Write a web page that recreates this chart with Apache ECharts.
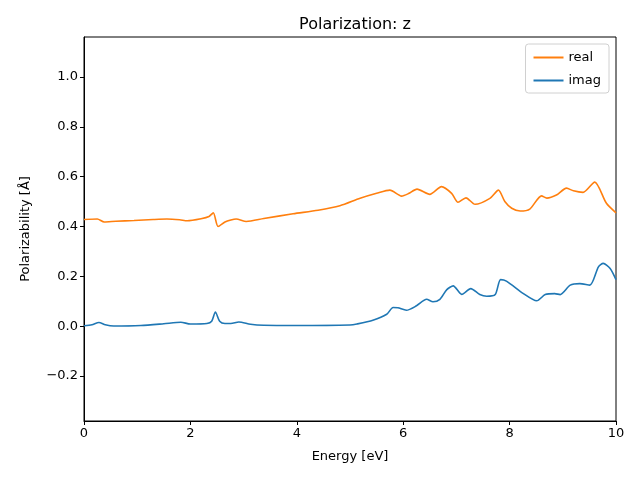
<!DOCTYPE html>
<html><head><meta charset="utf-8">
<script src="https://cdn.jsdelivr.net/npm/echarts@6/dist/echarts.min.js"></script>
<style>html,body{margin:0;padding:0;background:#fff}#c{width:640px;height:480px}</style>
</head><body><div id="c"></div>
<script>
const titleText = "Polarization: z";
const xName = "Energy [eV]";
const yName = "Polarizability [Å]";
const yTicks = [-0.2, 0.0, 0.2, 0.4, 0.6, 0.8, 1.0];
const realE = [0,0.25,0.38,0.6,0.94,1.3,1.56,1.8,1.94,2.2,2.35,2.43,2.52,2.65,2.76,2.86,3.05,3.38,3.93,4.4,4.81,5.19,5.5,5.75,5.97,6.1,6.26,6.5,6.72,6.91,7.03,7.18,7.35,7.63,7.79,7.91,8.04,8.2,8.38,8.6,8.7,8.88,9.07,9.2,9.38,9.6,9.82,10];
const realV = [0.428,0.43,0.418,0.421,0.424,0.428,0.43,0.427,0.423,0.431,0.44,0.455,0.40,0.418,0.426,0.43,0.42,0.432,0.451,0.465,0.483,0.513,0.533,0.546,0.522,0.532,0.55,0.529,0.56,0.533,0.497,0.515,0.489,0.513,0.546,0.5,0.473,0.462,0.47,0.523,0.514,0.526,0.554,0.543,0.537,0.578,0.493,0.455];
const imagE = [0,0.15,0.28,0.4,0.56,1.07,1.5,1.82,2.0,2.31,2.4,2.47,2.55,2.65,2.76,2.91,3.13,3.38,4,5.0,5.13,5.43,5.69,5.81,5.9,6.06,6.25,6.44,6.56,6.69,6.82,6.94,7.1,7.27,7.44,7.57,7.73,7.83,7.94,8.26,8.51,8.67,8.85,8.95,9.14,9.32,9.51,9.67,9.76,9.89,10];
const imagV = [0.002,0.006,0.015,0.006,0.001,0.003,0.01,0.016,0.009,0.011,0.02,0.057,0.02,0.011,0.011,0.017,0.008,0.004,0.003,0.005,0.009,0.024,0.048,0.075,0.074,0.064,0.082,0.108,0.098,0.108,0.147,0.162,0.128,0.151,0.127,0.12,0.127,0.187,0.181,0.131,0.102,0.127,0.131,0.127,0.165,0.171,0.165,0.238,0.252,0.232,0.187];

const font = "DejaVu Sans";
const chart = echarts.init(document.getElementById('c'), null, {renderer: 'canvas'});
const zip = (a, b) => a.map((v, i) => [v, b[i]]);
chart.setOption({
  animation: false,
  backgroundColor: '#fff',
  textStyle: {fontFamily: font},
  title: {text: titleText, left: 350, textAlign: 'center', top: 12,
    textStyle: {fontFamily: font, fontSize: 16, fontWeight: 'normal', color: '#000'}},
  grid: {left: 84, right: 24, top: 37, bottom: 59, show: true, borderColor: '#000', borderWidth: 1, backgroundColor: 'transparent'},
  legend: {
    orient: 'vertical', right: 31, top: 44,
    data: ['real', 'imag'],
    itemWidth: 30, itemHeight: 2, itemGap: 10,
    icon: 'rect',
    backgroundColor: '#fff', borderColor: '#d0d0d0', borderWidth: 1, borderRadius: 3,
    padding: [7, 8, 6, 8],
    textStyle: {fontFamily: font, fontSize: 13, color: '#000'}
  },
  xAxis: {
    type: 'value', min: 0, max: 10, interval: 2,
    name: xName, nameLocation: 'middle', nameGap: 29,
    nameTextStyle: {fontFamily: font, fontSize: 13, color: '#000'},
    axisLine: {onZero: false, lineStyle: {color: '#000'}},
    axisTick: {show: true, length: 4, lineStyle: {color: '#000'}},
    axisLabel: {fontFamily: font, fontSize: 13, color: '#000', margin: 6},
    splitLine: {show: false}
  },
  yAxis: {
    type: 'value', min: -0.38, max: 1.16,
    name: yName, nameLocation: 'middle', nameGap: 52,
    nameTextStyle: {fontFamily: font, fontSize: 13, color: '#000'},
    axisLine: {show: true, onZero: false, lineStyle: {color: '#000'}},
    axisTick: {show: true, length: 4, lineStyle: {color: '#000'}, customValues: yTicks},
    axisLabel: {fontFamily: font, fontSize: 13, color: '#000', margin: 6, customValues: yTicks,
      formatter: v => (v < 0 ? '\u2212' + Math.abs(v).toFixed(1) : v.toFixed(1))},
    splitLine: {show: false}
  },
  series: [
    {name: 'real', type: 'line', data: zip(realE, realV), showSymbol: false, smooth: 0.25,
      lineStyle: {color: '#ff7f0e', width: 1.6}, itemStyle: {color: '#ff7f0e'}},
    {name: 'imag', type: 'line', data: zip(imagE, imagV), showSymbol: false, smooth: 0.25,
      lineStyle: {color: '#1f77b4', width: 1.6}, itemStyle: {color: '#1f77b4'}}
  ]
});
</script></body></html>
